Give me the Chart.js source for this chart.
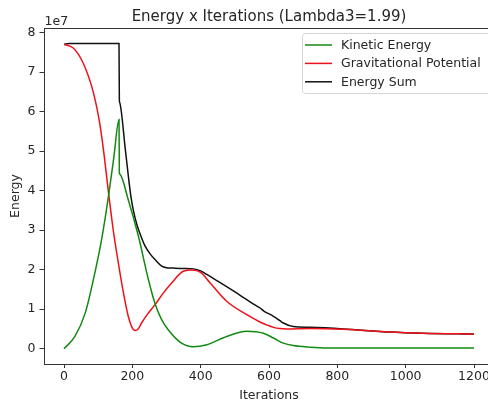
<!DOCTYPE html>
<html>
<head>
<meta charset="utf-8">
<script src="https://cdn.jsdelivr.net/npm/chart.js@4"></script>
<style>
  html, body { margin: 0; padding: 0; background: #fff; overflow: hidden; }
  #wrap { width: 500px; height: 407px; }
</style>
</head>
<body>
<div id="wrap"><canvas id="chart" width="500" height="407"></canvas></div>
<script>
// energies are in units of 1e7 (the "1e7" offset text on the y axis)
let kineticIter = [0, 32, 62, 86, 110, 130, 146, 161, 162, 163, 188, 218, 247, 266, 285, 305, 344, 379, 418, 476, 535, 584, 613, 642, 671, 720, 768, 900, 1050, 1200];
let kinetic     = [0.0, 0.31, 0.9, 1.75, 2.76, 3.85, 4.85, 5.8, 4.45, 4.42, 3.77, 2.84, 1.75, 1.15, 0.75, 0.48, 0.14, 0.05, 0.1, 0.31, 0.44, 0.39, 0.27, 0.14, 0.08, 0.04, 0.02, 0.02, 0.02, 0.02];

let potentialIter = [0, 27, 56, 86, 105, 118, 130, 144, 159, 174, 188, 198, 208, 217, 227, 245, 266, 290, 315, 349, 375, 400, 428, 476, 535, 575, 600, 613, 632, 652, 720, 818, 954, 1050, 1200];
let potential     = [7.7, 7.61, 7.23, 6.48, 5.68, 4.86, 3.97, 3.01, 2.17, 1.41, 0.82, 0.56, 0.46, 0.5, 0.65, 0.88, 1.11, 1.4, 1.66, 1.96, 1.99, 1.93, 1.66, 1.2, 0.86, 0.67, 0.58, 0.54, 0.51, 0.5, 0.51, 0.49, 0.42, 0.39, 0.37];

let sumIter   = [0, 15, 161, 162, 163, 180, 195, 203, 213, 225, 237, 252, 267, 286, 300, 320, 350, 379, 400, 418, 450, 476, 505, 535, 560, 574, 584, 613, 632, 642, 671, 720, 818, 954, 1050, 1200];
let energySum = [7.7, 7.72, 7.72, 6.3, 6.23, 5.0, 3.9, 3.5, 3.15, 2.85, 2.6, 2.4, 2.25, 2.09, 2.05, 2.04, 2.03, 2.02, 1.97, 1.88, 1.71, 1.57, 1.41, 1.24, 1.1, 1.03, 0.96, 0.82, 0.71, 0.65, 0.56, 0.54, 0.5, 0.42, 0.39, 0.37];

let xTicks = [0, 200, 400, 600, 800, 1000, 1200];
let yTicks = [0, 1, 2, 3, 4, 5, 6, 7, 8];

let seriesNames = ["Kinetic Energy", "Gravitational Potential", "Energy Sum"];
let seriesColors = ["#128a12", "#f01018", "#111111"];

const FONT = "'DejaVu Sans', sans-serif";
const TXT = "#262626";
const FS = 12.5;

function pts(xs, ys){
  return xs.map((x, i) => ({x: x, y: ys[i]}));
}

// axes frame, title, offset text, legend box
let extras = {
  id: "extras",
  afterDraw(chart){
    let c = chart.ctx, a = chart.chartArea;
    c.save();
    c.strokeStyle = "#333";
    c.lineWidth = 1;
    c.strokeRect(Math.round(a.left) + 0.5, Math.round(a.top) + 0.5, Math.round(a.right - a.left), Math.round(a.bottom - a.top));

    c.fillStyle = TXT;
    c.font = "15px " + FONT;
    c.textAlign = "center";
    c.textBaseline = "alphabetic";
    c.fillText("Energy x Iterations (Lambda3=1.99)", (a.left + a.right) / 2, 20.5);

    c.font = FS + "px " + FONT;
    c.textAlign = "left";
    c.fillText("1e7", a.left + 1, 25);

    let bx = 302, by = 33, bw = 200, bh = 60;
    c.fillStyle = "rgba(255,255,255,0.85)";
    c.strokeStyle = "#d5d5d5";
    c.lineWidth = 1;
    c.beginPath();
    c.roundRect(bx + 0.5, by + 0.5, bw, bh, 3);
    c.fill();
    c.stroke();
    c.textBaseline = "middle";
    seriesNames.forEach((n, i) => {
      let y = 45 + i * 18.4;
      c.strokeStyle = seriesColors[i];
      c.lineWidth = 1.5;
      c.beginPath();
      c.moveTo(305, y);
      c.lineTo(332, y);
      c.stroke();
      c.fillStyle = TXT;
      c.fillText(n, 341, y + 0.5);
    });
    c.restore();
  }
};

let allX = [kineticIter, potentialIter, sumIter];
let allY = [kinetic, potential, energySum];

new Chart(document.getElementById("chart"), {
  type: "line",
  data: {
    datasets: seriesNames.map((n, i) => ({
      label: n,
      data: pts(allX[i], allY[i]),
      borderColor: seriesColors[i],
      borderWidth: 1.5,
      pointRadius: 0,
      cubicInterpolationMode: "monotone",
      fill: false
    }))
  },
  options: {
    responsive: false,
    animation: false,
    layout: { padding: { top: 28, right: 5.5, left: 0, bottom: 0 } },
    plugins: { legend: { display: false }, title: { display: false }, tooltip: { enabled: false } },
    scales: {
      x: {
        type: "linear",
        min: -60,
        max: 1260,
        afterBuildTicks: s => { s.ticks = xTicks.map(v => ({value: v})); },
        afterFit: s => { s.height = 43; },
        grid: { drawOnChartArea: false, drawTicks: true, tickLength: 4, color: "#333" },
        border: { display: false },
        ticks: { color: TXT, font: { family: FONT, size: FS }, padding: 1, maxRotation: 0, callback: v => String(v) },
        title: { display: true, text: "Iterations", color: TXT, font: { family: FONT, size: FS }, padding: { top: 0, bottom: 3.5 } }
      },
      y: {
        min: -0.387,
        max: 8.115,
        afterBuildTicks: s => { s.ticks = yTicks.map(v => ({value: v})); },
        afterFit: s => { s.width = 43.5; },
        grid: { drawOnChartArea: false, drawTicks: true, tickLength: 4, color: "#333" },
        border: { display: false },
        ticks: { color: TXT, font: { family: FONT, size: FS }, padding: 4, callback: v => String(v) },
        title: { display: true, text: "Energy", color: TXT, font: { family: FONT, size: FS }, padding: { top: 8, bottom: 0 } }
      }
    }
  },
  plugins: [extras]
});
</script>
</body>
</html>
